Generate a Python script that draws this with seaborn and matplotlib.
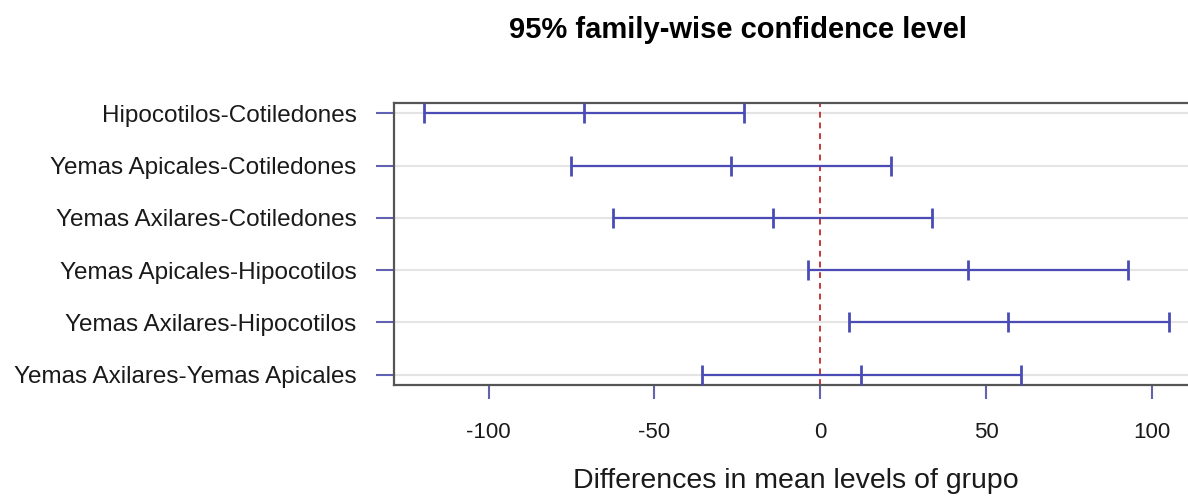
import numpy as np
import pandas as pd
import matplotlib
matplotlib.use("Agg")
import matplotlib.pyplot as plt
import seaborn as sns

# Tukey HSD comparisons (top to bottom)
comparisons = [
    "Hipocotilos-Cotiledones",
    "Yemas Apicales-Cotiledones",
    "Yemas Axilares-Cotiledones",
    "Yemas Apicales-Hipocotilos",
    "Yemas Axilares-Hipocotilos",
    "Yemas Axilares-Yemas Apicales",
]
diff = [-71.3, -26.8, -14.4, 44.4, 56.7, 12.3]
lwr = [-119.5, -75.0, -62.6, -3.8, 8.6, -35.8]
upr = [-23.1, 21.4, 33.7, 92.6, 105.0, 60.5]
xticks = [-100, -50, 0, 50, 100]

df = pd.DataFrame({"comp": comparisons, "diff": diff, "lwr": lwr, "upr": upr})
df["pos"] = np.arange(1, len(df) + 1)
marks = df.melt(id_vars=["comp", "pos"], value_vars=["lwr", "diff", "upr"],
                var_name="kind", value_name="value")

sns.set_theme(style="white")
plt.rcParams["font.family"] = ["Liberation Sans", "DejaVu Sans"]

blue = "#4b4bb5"
tick_col = "#6262b2"
text_col = "#1a1a1a"

fig = plt.figure(figsize=(11.88, 4.98), dpi=100)
ax = fig.add_axes([394 / 1188, 1 - 385 / 498, (1198.5 - 394) / 1188, (385 - 103) / 498])

# light horizontal guide lines at each comparison
for p in df["pos"]:
    ax.axhline(p, color="#e4e4e4", lw=1.5, zorder=0)

ax.hlines(df["pos"], df["lwr"], df["upr"], color=blue, lw=1.6, zorder=2)
sns.scatterplot(data=marks, x="value", y="pos", marker="|", s=200, linewidth=2,
                color=blue, ax=ax, zorder=3, legend=False)
ax.axvline(0, color="#c8383a", ls=(0, (3, 2.5)), lw=1.4, zorder=1)

ax.set_xlim(-128.5, 114)
ax.set_ylim(6.2, 0.8)
ax.set_yticks(df["pos"])
ax.set_yticklabels(comparisons)
ax.set_xticks(xticks)
ax.set_xticklabels([str(t) for t in xticks])

ax.tick_params(axis="y", direction="out", length=13, width=1.5, color=tick_col,
               pad=14, labelsize=17.5, labelcolor=text_col, left=True)
ax.tick_params(axis="x", direction="out", length=10, width=1.5, color=tick_col,
               pad=17, labelsize=16, labelcolor=text_col, bottom=True)

for side in ["left", "top", "bottom", "right"]:
    ax.spines[side].set_color("#555555")
    ax.spines[side].set_linewidth(1.6)

ax.set_xlabel("Differences in mean levels of grupo", fontsize=20.5, color=text_col, labelpad=18)
ax.set_ylabel("")
fig.text(738 / 1188, 1 - 30 / 498, "95% family-wise confidence level", ha="center",
         va="center", fontsize=21, fontweight="bold", color="black")

fig.savefig("out.png", dpi=100)
